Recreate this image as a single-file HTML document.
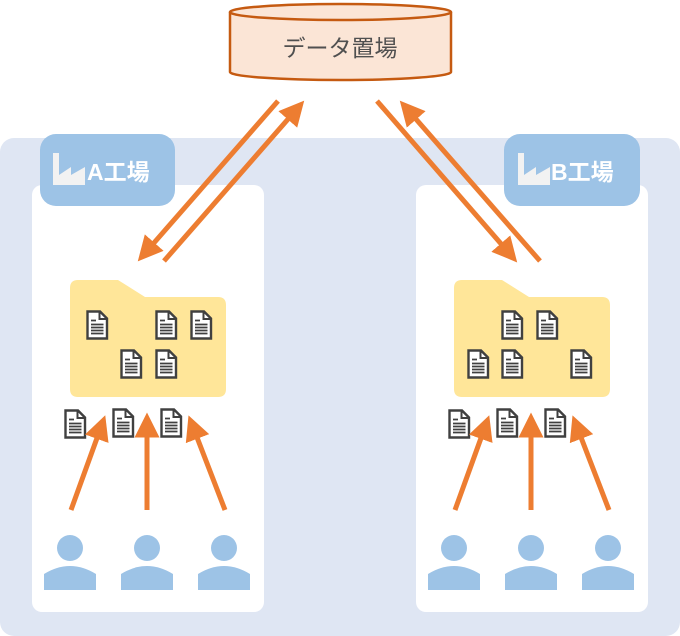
<!DOCTYPE html>
<html><head><meta charset="utf-8"><style>
html,body{margin:0;padding:0;background:#fff;}
svg{display:block;}
text{font-family:"Liberation Sans","Noto Sans CJK JP",sans-serif;}
</style></head><body>
<svg width="680" height="636" viewBox="0 0 680 636" xmlns="http://www.w3.org/2000/svg">
<defs>
<g id="doc">
<path d="M1.5 1.5 H14 L21 8.5 V28.5 H1.5 Z" fill="#fff" stroke="#404040" stroke-width="2.4" stroke-linejoin="miter"/>
<path d="M13.5 1.5 V9 H21" fill="none" stroke="#404040" stroke-width="2"/>
<path d="M5 10.5H10 M5 14.5H17.5 M5 17.5H17.5 M5 20.5H17.5 M5 23.5H17.5" stroke="#404040" stroke-width="1.7"/>
</g>
<g id="person">
<circle cx="0" cy="-14" r="13" fill="#9dc3e6"/>
<path d="M-26 28 V12 Q0 -4 26 12 V28 Z" fill="#9dc3e6"/>
</g>
<g id="factory">
<path d="M0 0 H6 V22 L18 14 V22 L32 14 V32 H0 Z" fill="#f2f2f2"/>
</g>
<marker id="ah" markerWidth="5" markerHeight="5" refX="2.5" refY="2.5" orient="auto" markerUnits="strokeWidth"><path d="M0 0 L5 2.5 L0 5 Z" fill="#ed7d31"/></marker>
</defs>
<rect x="0" y="138" width="680" height="498" rx="14" fill="#dfe6f3"/>
<rect x="32" y="185" width="232" height="427" rx="10" fill="#fff"/>
<rect x="416" y="185" width="232" height="427" rx="10" fill="#fff"/>
<rect x="40" y="134" width="135" height="72" rx="16" fill="#9dc3e6"/>
<rect x="504" y="134" width="136" height="72" rx="16" fill="#9dc3e6"/>
<use href="#factory" x="53" y="153"/>
<use href="#factory" x="518" y="153"/>
<text x="87" y="180" font-size="23" font-weight="bold" fill="#fff">A工場</text>
<text x="551" y="180" font-size="23" font-weight="bold" fill="#fff">B工場</text>
<path d="M230 12 V72 A110.5 8 0 0 0 451 72 V12" fill="#fbe5d6" stroke="#c55a11" stroke-width="2.5"/>
<ellipse cx="340.5" cy="12" rx="110.5" ry="8" fill="#fbe5d6" stroke="#c55a11" stroke-width="2.5"/>
<text x="340" y="56" font-size="23" fill="#505050" text-anchor="middle">データ置場</text>
<path d="M78 280 H118 L145 297 H218 Q226 297 226 305 V389 Q226 397 218 397 H78 Q70 397 70 389 V288 Q70 280 78 280 Z" fill="#ffe699"/>
<path d="M462 280 H502 L529 297 H602 Q610 297 610 305 V389 Q610 397 602 397 H462 Q454 397 454 389 V288 Q454 280 462 280 Z" fill="#ffe699"/>
<use href="#doc" x="86" y="310"/><use href="#doc" x="155" y="310"/><use href="#doc" x="190" y="310"/>
<use href="#doc" x="120" y="349"/><use href="#doc" x="155" y="349"/>
<use href="#doc" x="501" y="310"/><use href="#doc" x="536" y="310"/>
<use href="#doc" x="467" y="349"/><use href="#doc" x="501" y="349"/><use href="#doc" x="570" y="349"/>
<use href="#doc" x="64" y="409"/><use href="#doc" x="112" y="408"/><use href="#doc" x="160" y="408"/>
<use href="#doc" x="448" y="409"/><use href="#doc" x="496" y="408"/><use href="#doc" x="544" y="408"/>
<g stroke="#ed7d31" stroke-width="5" fill="none" marker-end="url(#ah)">
<line x1="278" y1="101" x2="146" y2="252"/>
<line x1="164" y1="261" x2="296" y2="110"/>
<line x1="377" y1="101" x2="509" y2="253"/>
<line x1="540" y1="261" x2="408" y2="110"/>
<line x1="71" y1="510" x2="101" y2="427"/>
<line x1="147" y1="510" x2="147" y2="425"/>
<line x1="225" y1="510" x2="193" y2="427"/>
<line x1="455" y1="510" x2="485" y2="427"/>
<line x1="531" y1="510" x2="531" y2="425"/>
<line x1="609" y1="510" x2="577" y2="427"/>
</g>
<use href="#person" x="70" y="562"/><use href="#person" x="147" y="562"/><use href="#person" x="224" y="562"/>
<use href="#person" x="454" y="562"/><use href="#person" x="531" y="562"/><use href="#person" x="608" y="562"/>
</svg>
</body></html>
